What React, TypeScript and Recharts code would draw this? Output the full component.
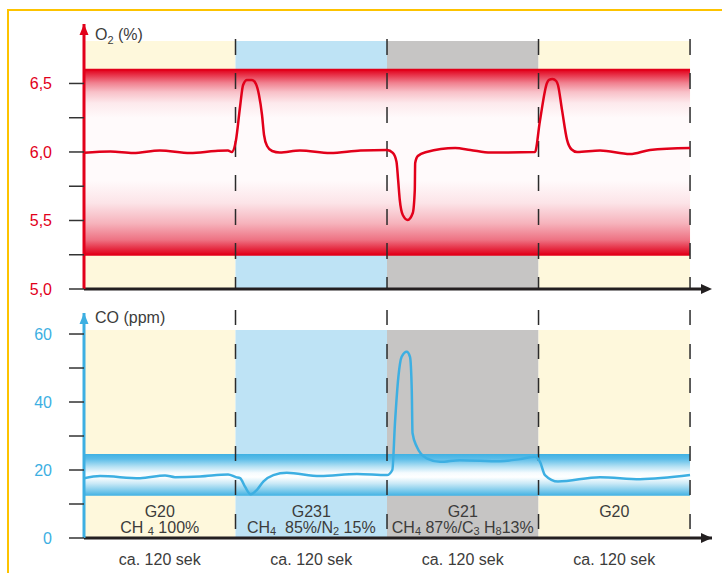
import React from 'react';
import {
  LineChart,
  Line,
  XAxis,
  YAxis,
  ReferenceArea,
  ReferenceLine,
  ReferenceDot,
} from 'recharts';

// time in seconds, four gas phases of ca. 120 s each
const phaseStart = [0, 120, 240, 360];
const phaseEnd = [120, 240, 360, 480];
const gasNames = ['G20', 'G231', 'G21', 'G20'];
// "_4" marks a subscript digit
const gasMix = ['CH _4 100%', 'CH_4  85%/N_2 15%', 'CH_4 87%/C_3 H_813%', ''];
const durationLabels = ['ca. 120 sek', 'ca. 120 sek', 'ca. 120 sek', 'ca. 120 sek'];
const durationTicks = [60, 180, 300, 420];
const dividers = [120, 240, 360, 480];

// O2 (%) trace
const o2Time = [0, 21, 39, 60, 84, 104, 114, 117, 120.4, 123.6, 126, 129.1, 133.1, 136.2, 138.6, 141, 142.6, 145, 149, 155, 171, 195, 219, 240, 244.6, 247.5, 248.8, 250.1, 252.5, 256.4, 260.4, 262, 262.3, 264.4, 271.3, 294, 306, 322, 357.2, 361, 366.7, 368.3, 371, 374, 375.4, 378.6, 382.6, 386, 390.5, 408.7, 432.5, 448.3, 480];
const o2Values = [5.995, 6.004, 5.993, 6.011, 5.993, 6.007, 6.011, 6.0, 6.088, 6.33, 6.489, 6.526, 6.526, 6.496, 6.416, 6.27, 6.124, 6.044, 6.007, 5.996, 6.011, 5.993, 6.011, 6.015, 5.993, 5.929, 5.796, 5.65, 5.54, 5.504, 5.555, 5.723, 5.92, 5.971, 6.0, 6.029, 6.015, 5.996, 6.0, 6.22, 6.504, 6.526, 6.533, 6.518, 6.489, 6.307, 6.088, 6.02, 6.0, 6.011, 5.985, 6.015, 6.029];

// CO (ppm) trace
const coTime = [0, 12.7, 44.4, 64.2, 72.1, 91.9, 114.1, 120.4, 123.6, 127.5, 132, 136.8, 142, 150, 160.6, 186.9, 216.2, 240, 244.2, 246.3, 249, 251.6, 255.6, 258.2, 259.6, 260.2, 263.5, 271.4, 282, 297.8, 329.5, 345.3, 357.2, 361.2, 365.1, 375.4, 408.7, 440.4, 480];
const coValues = [17.6, 18.2, 17.6, 18.4, 17.9, 18.1, 18.7, 17.9, 17.6, 15.1, 12.85, 14.1, 16.6, 18.5, 19.2, 18.2, 18.8, 18.5, 20, 33.8, 47.4, 53.3, 54.8, 53.3, 43.5, 30.9, 26.9, 23.4, 22.4, 22.9, 22.6, 23.2, 23.9, 22.4, 18.5, 16.6, 17.9, 17.3, 18.5];

const o2Ticks = [5, 5.25, 5.5, 5.75, 6, 6.25, 6.5];
const coTicks = [0, 10, 20, 30, 40, 50, 60];
const o2Band = [5.25, 6.6];
const coBand = [12.4, 24.7];
const o2Top = 6.81; // top of the phase backgrounds
const coTop = 61.2;

const o2Data = o2Time.map((t, i) => ({ t, o2: o2Values[i] }));
const coData = coTime.map((t, i) => ({ t, co: coValues[i] }));

const FONT = '"Liberation Sans", Arial, sans-serif';
const RED = '#e2001a';
const BLUE = '#3dafe2';
const DARK = '#231f20';
const TEXT = '#3c3c3b';
const phaseFill = ['#fef8dc', '#bee3f5', '#c6c5c4', '#fef8dc'];
const X_MAX = 497.4;

const upArrow = (color: string) => (p: any) => (
  <path d={`M${p.cx},${p.cy} L${p.cx - 4.5},${p.cy + 11} L${p.cx + 4.5},${p.cy + 11} Z`} fill={color} />
);
const rightArrow = (p: any) => (
  <path d={`M${p.cx},${p.cy} L${p.cx - 11},${p.cy - 5} L${p.cx - 11},${p.cy + 5} Z`} fill={DARK} />
);

const renderMix = (s: string) =>
  s.split(/_(\d)/).map((part, i) =>
    i % 2 === 1 ? (
      <tspan key={i} fontSize={11} dy={2}>{part}</tspan>
    ) : (
      <tspan key={i} dy={i > 0 ? -2 : 0}>{part}</tspan>
    )
  );

const PhaseLabel = (props: any) => {
  const { viewBox, name, mix } = props;
  const cx = viewBox.x + viewBox.width / 2;
  const bottom = viewBox.y + viewBox.height;
  return (
    <g fontFamily={FONT} fontSize={16} fill={TEXT} textAnchor="middle">
      <text x={cx} y={bottom - 21}>{name}</text>
      <text x={cx} y={bottom - 5} xmlSpace="preserve">{renderMix(mix)}</text>
    </g>
  );
};

const AxisTitle = (props: any) => {
  const { viewBox, dy, children } = props;
  return (
    <text x={viewBox.x + viewBox.width + 11} y={viewBox.y + dy} fontFamily={FONT} fontSize={16} fill={TEXT}>
      {children}
    </text>
  );
};

export default function App() {
  return (
    <div style={{ position: 'absolute', left: 0, top: 0, width: 722, height: 573, background: '#fff', fontFamily: FONT }}>
      <div
        style={{
          position: 'absolute',
          left: 7,
          top: 9,
          right: 0,
          bottom: 0,
          borderTop: '2.5px solid #fdc300',
          borderLeft: '2.5px solid #fdc300',
        }}
      />

      <svg width={0} height={0} style={{ position: 'absolute' }}>
        <defs>
          <linearGradient id="o2band" x1="0" y1="0" x2="0" y2="1">
            <stop offset="0" stopColor="#e2001a" />
            <stop offset="0.03" stopColor="#e8364c" />
            <stop offset="0.07" stopColor="#f07f8e" />
            <stop offset="0.12" stopColor="#f8c0c8" />
            <stop offset="0.18" stopColor="#fde9ec" />
            <stop offset="0.26" stopColor="#fffafb" />
            <stop offset="0.6" stopColor="#fffafb" />
            <stop offset="0.72" stopColor="#fce4e8" />
            <stop offset="0.83" stopColor="#f6b3bc" />
            <stop offset="0.92" stopColor="#ee7283" />
            <stop offset="0.97" stopColor="#e5283f" />
            <stop offset="1" stopColor="#e2001a" />
          </linearGradient>
          <linearGradient id="coband" x1="0" y1="0" x2="0" y2="1">
            <stop offset="0" stopColor="#3fb1e3" />
            <stop offset="0.12" stopColor="#5cbde8" />
            <stop offset="0.3" stopColor="#b5e1f4" />
            <stop offset="0.45" stopColor="#f5fbfe" />
            <stop offset="0.55" stopColor="#ffffff" />
            <stop offset="0.7" stopColor="#cbeaf7" />
            <stop offset="0.86" stopColor="#84cdec" />
            <stop offset="1" stopColor="#3fb1e3" />
          </linearGradient>
        </defs>
      </svg>

      {/* O2 panel */}
      <div style={{ position: 'absolute', left: 0, top: 0 }}>
        <LineChart width={722} height={300} data={o2Data} margin={{ top: 24, right: 10, bottom: 11, left: 0 }}>
          <XAxis dataKey="t" type="number" domain={[0, X_MAX]} hide />
          <YAxis
            type="number"
            domain={[5, 6.934]}
            ticks={o2Ticks}
            interval={0}
            width={84}
            tickSize={15}
            tickMargin={17}
            tickFormatter={(v: number) => (Math.round(v * 100) % 50 === 0 ? v.toFixed(1).replace('.', ',') : '')}
            tick={{ fill: RED, fontSize: 16, fontFamily: FONT }}
            tickLine={{ stroke: '#333', strokeWidth: 1.5 }}
            axisLine={{ stroke: RED, strokeWidth: 3 }}
            label={
              <AxisTitle dy={16}>
                <tspan>O</tspan>
                <tspan fontSize={11} dy={4}>2</tspan>
                <tspan dy={-4}> (%)</tspan>
              </AxisTitle>
            }
          />
          {phaseStart.map((s, i) => (
            <ReferenceArea key={'bg' + i} x1={s} x2={phaseEnd[i]} y1={5} y2={o2Top} fill={phaseFill[i]} fillOpacity={1} stroke="none" />
          ))}
          <ReferenceArea x1={0} x2={480} y1={o2Band[0]} y2={o2Band[1]} fill="url(#o2band)" fillOpacity={1} stroke="none" />
          {o2Band.map((b) => (
            <ReferenceLine key={'ob' + b} segment={[{ x: 0, y: b }, { x: 480, y: b }]} stroke={RED} strokeWidth={2} />
          ))}
          {dividers.map((d) => (
            <ReferenceLine
              key={'d' + d}
              segment={[{ x: d, y: 6.825 }, { x: d, y: 5 }]}
              stroke="#2b2b2b"
              strokeWidth={1.5}
              strokeDasharray="16 18"
              ifOverflow="visible"
            />
          ))}
          <Line type="monotone" dataKey="o2" stroke={RED} strokeWidth={2.5} dot={false} isAnimationActive={false} />
          <ReferenceLine segment={[{ x: 0, y: 5 }, { x: X_MAX - 8, y: 5 }]} stroke={DARK} strokeWidth={3} ifOverflow="visible" />
          <ReferenceDot x={X_MAX} y={5} ifOverflow="visible" shape={rightArrow} />
          <ReferenceDot x={0} y={6.934} ifOverflow="visible" shape={upArrow(RED)} />
        </LineChart>
      </div>

      {/* CO panel */}
      <div style={{ position: 'absolute', left: 0, top: 290 }}>
        <LineChart width={722} height={283} data={coData} margin={{ top: 23, right: 10, bottom: 0, left: 0 }}>
          <XAxis
            dataKey="t"
            type="number"
            domain={[0, X_MAX]}
            ticks={durationTicks}
            interval={0}
            height={35}
            tickSize={0}
            tickMargin={16}
            tickLine={false}
            tickFormatter={(_v: number, i: number) => durationLabels[i]}
            tick={{ fill: TEXT, fontSize: 16, fontFamily: FONT }}
            axisLine={{ stroke: DARK, strokeWidth: 3 }}
          />
          <YAxis
            type="number"
            domain={[0, 66.18]}
            ticks={coTicks}
            interval={0}
            width={84}
            tickSize={15}
            tickMargin={17}
            tickFormatter={(v: number) => (v % 20 === 0 ? String(v) : '')}
            tick={{ fill: BLUE, fontSize: 16, fontFamily: FONT }}
            tickLine={{ stroke: '#333', strokeWidth: 1.5 }}
            axisLine={{ stroke: BLUE, strokeWidth: 3 }}
            label={<AxisTitle dy={10}>CO  (ppm)</AxisTitle>}
          />
          {phaseStart.map((s, i) => (
            <ReferenceArea
              key={'cbg' + i}
              x1={s}
              x2={phaseEnd[i]}
              y1={0}
              y2={coTop}
              fill={phaseFill[i]}
              fillOpacity={1}
              stroke="none"
              label={<PhaseLabel name={gasNames[i]} mix={gasMix[i]} />}
            />
          ))}
          <ReferenceArea x1={0} x2={480} y1={coBand[0]} y2={coBand[1]} fill="url(#coband)" fillOpacity={1} stroke="none" />
          {dividers.map((d) => (
            <ReferenceLine
              key={'cd' + d}
              segment={[{ x: d, y: 67.06 }, { x: d, y: 0 }]}
              stroke="#2b2b2b"
              strokeWidth={1.5}
              strokeDasharray="15 19"
              ifOverflow="visible"
            />
          ))}
          <Line type="monotone" dataKey="co" stroke={BLUE} strokeWidth={2.5} dot={false} isAnimationActive={false} />
          <ReferenceDot x={X_MAX} y={0} ifOverflow="visible" shape={rightArrow} />
          <ReferenceDot x={0} y={66.18} ifOverflow="visible" shape={upArrow(BLUE)} />
        </LineChart>
      </div>
    </div>
  );
}
